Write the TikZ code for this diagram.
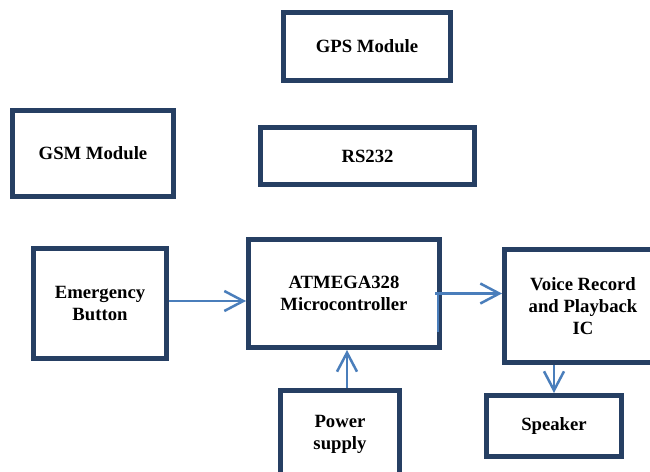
\documentclass[tikz,border=0pt]{standalone}
\usepackage{fontspec}
\setmainfont{Liberation Serif}
\usetikzlibrary{arrows.meta}
\definecolor{boxc}{HTML}{263F63}
\definecolor{arrc}{HTML}{4A7EBB}
\tikzset{
  blk/.style={draw=boxc, line width=5pt, fill=white, rectangle, align=center,
    inner sep=0pt, font=\fontsize{18.7}{22}\selectfont\bfseries},
  arr/.style={draw=arrc, line width=2.5pt,
    -{Straight Barb[length=19pt,width=20pt,line width=2.5pt]}},
  ln/.style={draw=arrc, line width=2.5pt}
}
\begin{document}
\begin{tikzpicture}[x=1pt,y=-1pt]
\useasboundingbox (0,0) rectangle (650,471);
\clip (0,0) rectangle (650,471);
\fill[white] (0,0) rectangle (650,471);
\node[blk, minimum width=167pt, minimum height=68pt] (gps) at (367,46.5) {GPS Module};
\node[blk, minimum width=161pt, minimum height=86pt] (gsm) at (93,153.5) {GSM Module};
\node[blk, minimum width=214pt, minimum height=57pt] (rs) at (367.5,156) {RS232};
\node[blk, minimum width=133pt, minimum height=110pt] (em) at (100,303.5) {Emergency\\Button};
\node[blk, minimum width=191pt, minimum height=108pt] (atm) at (344,293.5) {ATMEGA328\\Microcontroller};
\node[blk, minimum width=157pt, minimum height=113pt] (vo) at (583,306) {Voice Record\\and Playback\\IC};
\node[blk, minimum width=119pt, minimum height=87pt] (pw) at (340,434) {Power\\supply};
\node[blk, minimum width=135pt, minimum height=61pt] (sp) at (554,426) {Speaker};
\draw[arr] ([yshift=2.5pt]em.east) -- ([yshift=2.5pt]em.east -| atm.west);
\draw[arr] ([xshift=-7pt]atm.east) -- (atm.east -| vo.west);
\draw[ln] ([xshift=-4pt]atm.east) -- ++(0pt,-38pt);
\draw[arr] ([xshift=7pt]pw.north) -- ([xshift=7pt]pw.north |- atm.south);
\draw[arr] (sp.north |- vo.south) -- (sp.north);
\end{tikzpicture}
\end{document}
